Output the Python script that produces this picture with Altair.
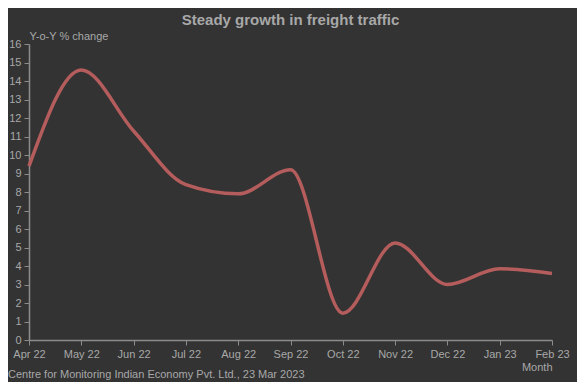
import altair as alt
import pandas as pd

months = ["Apr 22", "May 22", "Jun 22", "Jul 22", "Aug 22", "Sep 22",
          "Oct 22", "Nov 22", "Dec 22", "Jan 23", "Feb 23"]
yoy_change = [9.4, 14.6, 11.3, 8.4, 7.9, 9.2, 1.45, 5.25, 3.0, 3.85, 3.6]

df = pd.DataFrame({"Month": months, "YoY": yoy_change})
footer_df = pd.DataFrame({"t": ["Centre for Monitoring Indian Economy Pvt. Ltd., 23 Mar 2023"]})

TXT = "#a8a8a8"
AX = "#8c8c8c"
W, H = 523, 296

line = alt.Chart(df).mark_line(
    interpolate="monotone", color="#b55c5c", strokeWidth=3.5
).encode(
    x=alt.X("Month:N", sort=months,
            scale=alt.Scale(type="point", padding=0),
            axis=alt.Axis(title="Month", labelAngle=0, titleAnchor="end",
                          titleAlign="right", titleX=W, titleY=21,
                          titleFontWeight="normal")),
    y=alt.Y("YoY:Q", scale=alt.Scale(domain=[0, 16], nice=False),
            axis=alt.Axis(title="Y-o-Y % change", titleAngle=0, titleAlign="left",
                          titleAnchor="start", titleX=0, titleY=-3, titleBaseline="bottom",
                          values=list(range(0, 17)), tickCount=17, grid=False,
                          titleFontWeight="normal")),
)

footer = alt.Chart(footer_df).mark_text(
    align="left", baseline="alphabetic", fontSize=11, color=TXT, font="Liberation Sans"
).encode(
    text="t:N", x=alt.value(-21), y=alt.value(H + 38)
)

chart = alt.layer(line, footer).properties(
    width=W, height=H,
    title=alt.TitleParams("Steady growth in freight traffic", anchor="middle",
                          fontSize=15, fontWeight="bold", color=TXT,
                          font="Liberation Sans", offset=2),
    background="#333333",
    autosize=alt.AutoSizeParams(type="none"),
    padding={"left": 21, "top": 36, "right": 25, "bottom": 42},
).configure_view(stroke=None).configure_axis(
    domainColor=AX, tickColor=AX, labelColor=TXT, titleColor=TXT,
    labelFont="Liberation Sans", titleFont="Liberation Sans",
    labelFontSize=11, titleFontSize=11, tickSize=5, domainWidth=1.5,
    grid=False, labelPadding=3
)

chart.save("out.html", embed_options={"renderer": "svg", "actions": False})
